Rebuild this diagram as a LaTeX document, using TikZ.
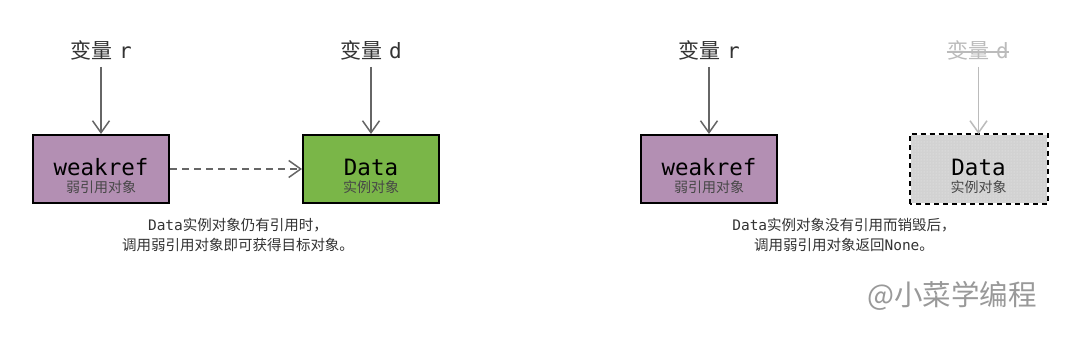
\documentclass[tikz,border=0pt]{standalone}
\usepackage{fontspec}
\usetikzlibrary{arrows.meta,patterns}
\newfontfamily\cjk{Noto Sans CJK SC}
\newfontfamily\mono{DejaVu Sans Mono}
\definecolor{purp}{HTML}{B38FB3}
\definecolor{grn}{HTML}{7AB648}
\definecolor{dgray}{HTML}{666666}
\definecolor{lgray}{HTML}{BBBBBB}
\definecolor{txt}{HTML}{333333}
\definecolor{boxgray}{HTML}{D2D2D2}
\definecolor{wm}{HTML}{999999}
\tikzset{
  objbox/.style={draw=black, line width=2pt, minimum width=136pt, minimum height=68pt, inner sep=0pt},
  mainlbl/.style={anchor=base, inner sep=0pt, text depth=0pt, text=black, font=\mono\fontsize{22.5}{24}\selectfont},
  sublbl/.style={anchor=base, inner sep=0pt, text height=10pt, text depth=1pt, text=txt!90, font=\cjk\fontsize{14}{16}\selectfont},
  varlbl/.style={anchor=base, inner sep=0pt, text=txt, font=\fontsize{21}{22}\selectfont},
  caption/.style={anchor=base, inner sep=0pt, text=txt, font=\fontsize{14.5}{16}\selectfont},
  refarrow/.style={draw=dgray, line width=1.5pt, -{Straight Barb[length=12pt,width=17pt]}},
}
\begin{document}
\begin{tikzpicture}[x=1pt,y=-1pt]
\useasboundingbox (0,0) rectangle (1080,355);
\fill[white] (0,0) rectangle (1080,355);

% ---------- left panel ----------
\node[varlbl] (vr1) at (101,59) {{\cjk 变量}\hspace{7pt}{\mono r}};
\node[varlbl] (vd1) at (371,59) {{\cjk 变量}\hspace{7pt}{\mono d}};
\node[objbox, fill=purp] (w1) at (101,169) {};
\node[objbox, fill=grn] (d1) at (371,169) {};
\node[mainlbl] (w1t) at (101,176) {weakref};
\node[sublbl] (w1s) at (101,193) {弱引用对象};
\node[mainlbl] (d1t) at (371,176) {Data};
\node[sublbl] (d1s) at (371,193) {实例对象};
\coordinate (vr1a) at (101,67);
\coordinate (vd1a) at (371,67);
\draw[refarrow] (vr1a) -- (w1.north);
\draw[refarrow] (vd1a) -- (d1.north);
\draw[refarrow, dash pattern=on 7pt off 5pt] (w1.east) -- (d1.west);
\node[caption] (c1a) at (238,231) {{\mono Data}{\cjk 实例对象仍有引用时，}};
\node[caption] (c1b) at (238,251) {\cjk 调用弱引用对象即可获得目标对象。};

% ---------- right panel ----------
\node[varlbl] (vr2) at (709,59) {{\cjk 变量}\hspace{7pt}{\mono r}};
\node[varlbl, text=lgray] (vd2) at (978,59) {{\cjk 变量}\hspace{7pt}{\mono d}};
\draw[lgray, line width=1.2pt] (vd2.west |- 0,52) -- (vd2.east |- 0,52);
\node[objbox, fill=boxgray, draw=none] (d2) at (978.5,169) {};
\fill[pattern=dots, pattern color=white!60!boxgray] (d2.south west) rectangle (d2.north east);
\draw[line width=2pt, dash pattern=on 5pt off 4pt] (d2.south west) rectangle (d2.north east);
\node[objbox, fill=purp] (w2) at (709,169) {};
\node[mainlbl] (w2t) at (709,176) {weakref};
\node[sublbl] (w2s) at (709,193) {弱引用对象};
\node[mainlbl] (d2t) at (978.5,176) {Data};
\node[sublbl] (d2s) at (978.5,193) {实例对象};
\coordinate (vr2a) at (709,67);
\coordinate (vd2a) at (978.5,67);
\draw[refarrow] (vr2a) -- (w2.north);
\draw[refarrow, draw=lgray] (vd2a) -- (d2.north);
\node[caption] (c2a) at (844,231) {{\mono Data}{\cjk 实例对象没有引用而销毁后，}};
\node[caption] (c2b) at (844,251) {{\cjk 调用弱引用对象返回}{\mono None}{\cjk 。}};

% watermark
\node[anchor=base, inner sep=0pt, text=wm, font=\cjk\fontsize{28.5}{30}\selectfont] (wmk) at (952,306) {@小菜学编程};
\end{tikzpicture}
\end{document}
